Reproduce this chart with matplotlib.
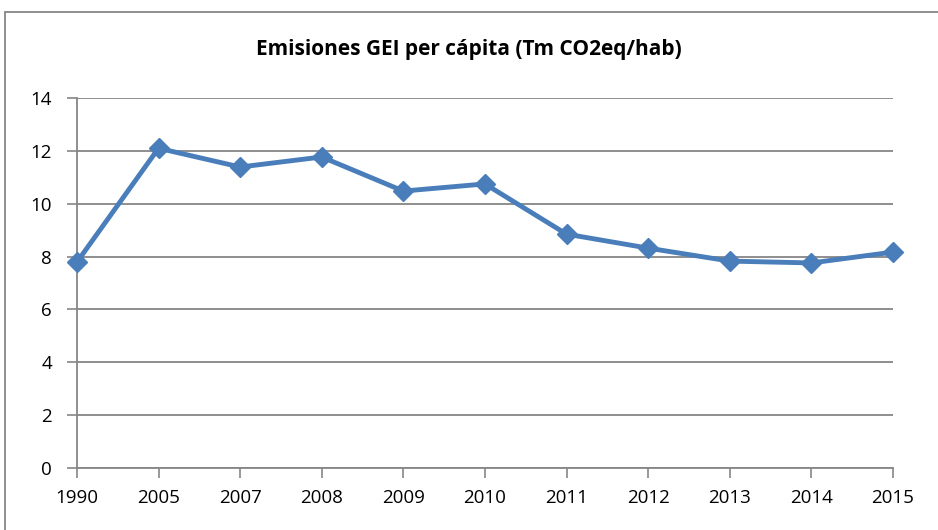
import matplotlib.pyplot as plt
from matplotlib.patches import Rectangle

years = ['1990', '2005', '2007', '2008', '2009', '2010', '2011', '2012', '2013', '2014', '2015']
emisiones = [7.79, 12.1, 11.39, 11.77, 10.48, 10.75, 8.85, 8.32, 7.83, 7.76, 8.17]
yticks = [0, 2, 4, 6, 8, 10, 12, 14]

plt.rcParams['font.family'] = ['Open Sans', 'DejaVu Sans']

fig = plt.figure(figsize=(9.38, 5.3), dpi=100)
ax = fig.add_axes([0.082, 0.117, 0.870, 0.698])

x = list(range(len(years)))
ax.plot(x, emisiones, color='#4A7EBB', linewidth=3.5, marker='D', markersize=10,
        markerfacecolor='#4A7EBB', markeredgecolor='#4A7EBB', zorder=3, clip_on=False)

ax.set_xlim(0, len(years) - 1)
ax.set_ylim(0, 14)
ax.set_yticks(yticks)
ax.set_xticks(x)
ax.set_xticklabels(years)
ax.yaxis.grid(True, color='#868686', linewidth=1.3)
ax.set_axisbelow(True)

for side in ['top', 'right']:
    ax.spines[side].set_visible(False)
for side in ['left', 'bottom']:
    ax.spines[side].set_color('#868686')
    ax.spines[side].set_linewidth(1.3)

ax.tick_params(axis='both', colors='#868686', labelcolor='black', labelsize=13.5,
               length=7, width=1.2)
ax.tick_params(axis='x', pad=8)
ax.tick_params(axis='y', pad=11)

fig.text(0.5, 0.906, 'Emisiones GEI per cápita (Tm CO2eq/hab)', ha='center', va='center',
         fontsize=15, fontweight='bold')

fig.patches.append(Rectangle((5 / 938, -0.05), 1.1, 1 - 12 / 530 + 0.05,
                             transform=fig.transFigure, fill=False,
                             edgecolor='#868686', linewidth=1.3))

fig.savefig('out.png', dpi=100)
